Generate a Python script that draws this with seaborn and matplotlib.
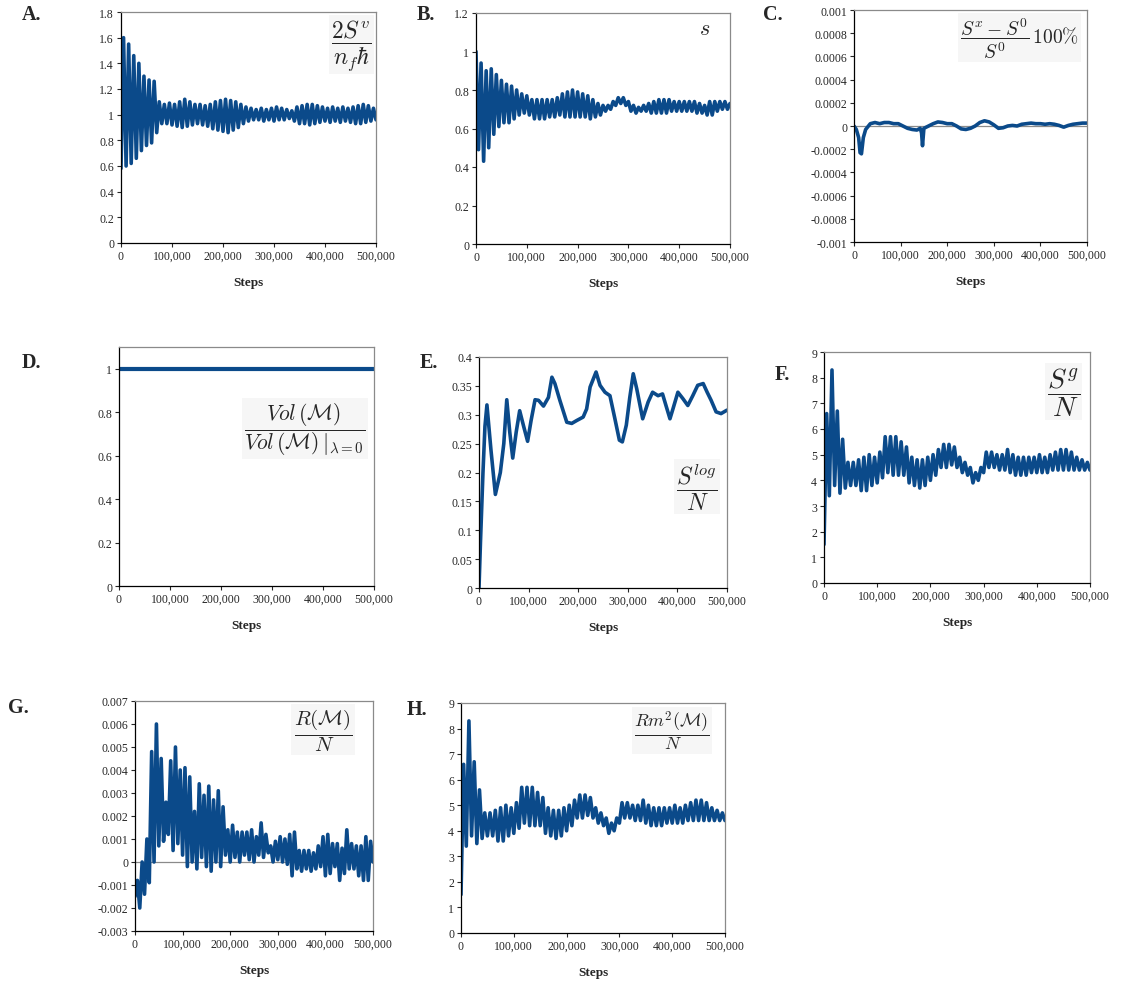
import numpy as np
import matplotlib
matplotlib.use("Agg")
import matplotlib.pyplot as plt
from matplotlib.ticker import FuncFormatter
import seaborn as sns

# --- data (steps 0..500,000) ---
# A: 2S^v / (n_f hbar); troughs at 0,10k,...,500k, peaks at 5k,15k,...,495k
a_troughs = [0.58, 0.60, 0.62, 0.66, 0.72, 0.76, 0.78, 0.86, 0.93, 0.93,
             0.92, 0.91, 0.90, 0.91, 0.92, 0.93, 0.92, 0.91, 0.89, 0.88,
             0.87, 0.86, 0.88, 0.90, 0.93, 0.95, 0.96, 0.96, 0.95, 0.96,
             0.95, 0.96, 0.96, 0.97, 0.95, 0.93, 0.93, 0.92, 0.93, 0.94,
             0.95, 0.94, 0.95, 0.94, 0.95, 0.94, 0.93, 0.93, 0.94, 0.95,
             0.96]
a_peaks = [1.60, 1.55, 1.46, 1.40, 1.30, 1.27, 1.26, 1.10, 1.08, 1.09,
           1.08, 1.10, 1.12, 1.10, 1.08, 1.08, 1.07, 1.08, 1.10, 1.11,
           1.12, 1.11, 1.10, 1.08, 1.06, 1.05, 1.04, 1.05, 1.04, 1.05,
           1.06, 1.05, 1.04, 1.03, 1.06, 1.07, 1.08, 1.08, 1.07, 1.06,
           1.05, 1.06, 1.05, 1.06, 1.05, 1.06, 1.07, 1.08, 1.07, 1.05]

# B: s; peaks at 0,10k,...,500k, troughs at 5k,...,495k
b_peaks = [1.00, 0.94, 0.90, 0.91, 0.88, 0.85, 0.83, 0.82, 0.80, 0.78,
           0.77, 0.75, 0.75, 0.75, 0.75, 0.75, 0.76, 0.78, 0.79, 0.80,
           0.79, 0.78, 0.77, 0.75, 0.73, 0.72, 0.72, 0.74, 0.76, 0.76,
           0.74, 0.72, 0.71, 0.72, 0.73, 0.74, 0.75, 0.75, 0.75, 0.74,
           0.74, 0.74, 0.74, 0.74, 0.73, 0.72, 0.74, 0.74, 0.74, 0.74,
           0.73]
b_troughs = [0.49, 0.43, 0.50, 0.57, 0.61, 0.63, 0.63, 0.65, 0.67, 0.68,
             0.67, 0.65, 0.65, 0.65, 0.66, 0.66, 0.67, 0.66, 0.66, 0.66,
             0.66, 0.66, 0.65, 0.66, 0.67, 0.69, 0.70, 0.72, 0.73, 0.72,
             0.69, 0.68, 0.69, 0.69, 0.68, 0.68, 0.68, 0.68, 0.69, 0.69,
             0.69, 0.69, 0.69, 0.68, 0.68, 0.67, 0.67, 0.69, 0.70, 0.70]

# C: relative deviation, in units of 1e-5
c_steps = [0, 5000, 10000, 13000, 16000, 20000, 25000,
           35000, 45000, 55000, 65000, 75000, 85000, 95000, 105000, 115000, 125000, 135000,
           142000, 145000, 147000, 150000,
           160000, 170000, 180000, 190000, 200000, 210000, 220000, 230000, 240000, 250000,
           260000, 270000, 280000, 290000, 300000, 310000, 320000, 330000, 340000, 350000,
           360000, 370000, 380000, 390000, 400000, 410000, 420000, 430000, 440000, 450000,
           460000, 470000, 480000, 490000, 500000]
c_vals_e5 = [0, -3, -10, -23, -24, -10, -3,
             2, 3, 2, 3, 3, 2, 2, 0, -2, -3, -3.5,
             -2, -6, -17, -2,
             0, 2, 3.5, 3, 2, 2, 0, -2.5, -3, -2,
             0, 3, 4.5, 3.5, 1, -2, -1.5, 0, 0.5, 0,
             1.5, 2, 2.5, 2, 2, 1.5, 2, 1.5, 0.5, -1,
             0.5, 1.5, 2, 2.5, 2.5]

# D: volume ratio
d_steps = [0, 500000]
d_vals = [1.0, 1.0]

# E: S^log / N
e_steps = [0, 3000, 8000, 12000, 16000, 24000, 33000, 43000, 50000, 56000,
           62000, 68000, 75000, 82000, 90000, 98000, 105000, 113000, 120000, 130000,
           140000, 147000, 153000, 163000, 177000, 187000, 197000, 210000, 217000, 224000,
           236000, 244000, 254000, 264000, 274000, 283000, 289000, 297000, 304000, 311000,
           318000, 330000, 341000, 350000, 361000, 370000, 378000, 385000, 391000, 401000,
           411000, 421000, 431000, 441000, 452000, 460000, 468000, 478000, 488000, 500000]
e_vals = [0, 0.08, 0.2, 0.28, 0.317, 0.24, 0.162, 0.2, 0.25, 0.326,
          0.27, 0.225, 0.27, 0.307, 0.28, 0.254, 0.29, 0.326, 0.325, 0.315,
          0.33, 0.365, 0.354, 0.325, 0.287, 0.285, 0.29, 0.296, 0.31, 0.348,
          0.374, 0.351, 0.339, 0.333, 0.293, 0.256, 0.253, 0.282, 0.33, 0.371,
          0.345, 0.293, 0.322, 0.339, 0.333, 0.336, 0.313, 0.293, 0.31, 0.339,
          0.328, 0.316, 0.333, 0.351, 0.354, 0.339, 0.325, 0.305, 0.302, 0.308]

# F / H: S^g / N and Rm^2 / N (same curve); troughs at 0,10k,..., peaks at 5k,...
f_troughs = [1.5, 3.4, 3.8, 3.5, 3.7, 3.8, 3.8, 3.6, 3.6, 3.8,
             3.9, 4.1, 4.3, 4.2, 4.2, 4.2, 3.9, 3.8, 3.7, 3.8,
             4.0, 4.2, 4.5, 4.5, 4.6, 4.5, 4.3, 4.2, 3.9, 4.0,
             4.3, 4.5, 4.5, 4.4, 4.4, 4.3, 4.2, 4.2, 4.2, 4.3,
             4.3, 4.3, 4.3, 4.4, 4.4, 4.4, 4.4, 4.4, 4.4, 4.4,
             4.4]
f_peaks = [6.6, 8.3, 6.7, 5.6, 4.7, 4.7, 4.8, 4.9, 5.0, 4.9,
           5.1, 5.7, 5.7, 5.7, 5.5, 5.3, 4.9, 4.8, 4.8, 4.9,
           5.0, 5.2, 5.4, 5.4, 5.3, 4.9, 4.7, 4.5, 4.3, 4.5,
           5.1, 5.1, 5.0, 5.0, 5.2, 5.0, 4.9, 4.9, 4.9, 4.9,
           5.0, 4.9, 5.0, 5.1, 5.2, 5.2, 5.1, 4.9, 4.8, 4.7]
h_troughs = f_troughs
h_peaks = f_peaks

# G: R(M) / N; troughs at 0,10k,..., peaks at 5k,...
g_troughs = [-0.0015, -0.0020, -0.0014, -0.0009, 0.0000, 0.0007, 0.0009, 0.0012, 0.0005, 0.0008,
             0.0003, -0.0002, 0.0000, -0.0003, 0.0002, -0.0002, -0.0004, 0.0000, -0.0002, 0.0003,
             0.0000, 0.0002, 0.0000, 0.0003, 0.0001, 0.0000, 0.0003, 0.0002, 0.0004, 0.0000,
             0.0001, 0.0000, -0.0001, -0.0006, -0.0003, -0.0004, -0.0003, -0.0004, -0.0003, -0.0002,
             -0.0006, -0.0005, -0.0002, -0.0008, -0.0005, -0.0003, -0.0003, -0.0006, -0.0008, -0.0008,
             0.0000]
g_peaks = [-0.0008, 0.0000, 0.0010, 0.0048, 0.0060, 0.0045, 0.0026, 0.0044, 0.0050, 0.0040,
           0.0041, 0.0037, 0.0022, 0.0034, 0.0029, 0.0033, 0.0027, 0.0031, 0.0024, 0.0014,
           0.0016, 0.0013, 0.0013, 0.0013, 0.0014, 0.0011, 0.0017, 0.0012, 0.0007, 0.0009,
           0.0011, 0.0010, 0.0012, 0.0013, 0.0005, 0.0005, 0.0005, 0.0004, 0.0007, 0.0011,
           0.0012, 0.0008, 0.0008, 0.0006, 0.0014, 0.0008, 0.0007, 0.0007, 0.0011, 0.0009]

x_ticks = [0, 100000, 200000, 300000, 400000, 500000]
BLUE = "#0b4a8a"
W, H = 1136, 987
DENSE_LW = 2.6


def interleave(first, second):
    # alternate the two extremes
    out = []
    for i, v in enumerate(first):
        out.append(v)
        if i < len(second):
            out.append(second[i])
    return out


def rect(x0, y0, x1, y1):
    return [x0 / W, 1 - y1 / H, (x1 - x0) / W, (y1 - y0) / H]


def style_axes(ax, ylim, yticks):
    ax.set_xlim(0, 500000)
    ax.set_ylim(*ylim)
    ax.set_xticks(x_ticks)
    ax.set_yticks(yticks)
    ax.xaxis.set_major_formatter(FuncFormatter(lambda v, p: f"{int(round(v)):,}"))
    ax.yaxis.set_major_formatter(FuncFormatter(lambda v, p: f"{round(v, 6):g}"))
    ax.tick_params(direction="out", length=3, width=0.8, labelsize=8.5, pad=2,
                   top=False, right=False)
    for side in ["left", "bottom"]:
        ax.spines[side].set_color("black")
        ax.spines[side].set_linewidth(0.9)
    for side in ["top", "right"]:
        ax.spines[side].set_color("#8a8a8a")
        ax.spines[side].set_linewidth(0.9)
    ax.set_xlabel("Steps", fontweight="bold", fontsize=9.5, labelpad=10)
    ax.set_ylabel("")


def formula(ax, x, y, s, size):
    ax.text(x, y, s, transform=ax.transAxes, ha="center", va="center", fontsize=size,
            bbox=dict(facecolor="#f6f6f6", edgecolor="none", pad=1.5))


sns.set_style("ticks")
plt.rcParams["font.family"] = ["Liberation Serif", "DejaVu Serif"]
plt.rcParams["mathtext.fontset"] = "cm"

fig = plt.figure(figsize=(W / 100, H / 100), dpi=100)

zig_x = np.arange(101) * 5000

# A
ax = fig.add_axes(rect(121, 13, 376, 244))
sns.lineplot(x=zig_x, y=interleave(a_troughs, a_peaks), ax=ax, color=BLUE,
             linewidth=DENSE_LW, estimator=None, errorbar=None)
style_axes(ax, (0, 1.8), np.arange(0, 1.81, 0.2))
formula(ax, 0.905, 0.86, r"$\dfrac{2S^v}{n_f\hbar}$", 17)

# B
ax = fig.add_axes(rect(476, 14, 730, 245))
sns.lineplot(x=zig_x, y=interleave(b_peaks, b_troughs), ax=ax, color=BLUE,
             linewidth=DENSE_LW, estimator=None, errorbar=None)
style_axes(ax, (0, 1.2), np.arange(0, 1.21, 0.2))
ax.text(0.90, 0.93, r"$s$", transform=ax.transAxes, ha="center", va="center", fontsize=16)

# C
ax = fig.add_axes(rect(854, 11, 1087, 243))
ax.axhline(0, color="#8a8a8a", linewidth=0.9)
sns.lineplot(x=c_steps, y=np.array(c_vals_e5) * 1e-5, ax=ax, color=BLUE,
             linewidth=2.6, estimator=None, errorbar=None)
style_axes(ax, (-0.001, 0.001), np.arange(-0.001, 0.00101, 0.0002))
formula(ax, 0.71, 0.88, r"$\dfrac{S^x - S^0}{S^0}\,100\%$", 14)

# D
ax = fig.add_axes(rect(119, 348, 374, 587))
sns.lineplot(x=d_steps, y=d_vals, ax=ax, color=BLUE, linewidth=3,
             estimator=None, errorbar=None)
style_axes(ax, (0, 1.1), np.arange(0, 1.01, 0.2))
formula(ax, 0.73, 0.657, r"$\dfrac{Vol\,(\mathcal{M})}{Vol\,(\mathcal{M})\,|_{\lambda=0}}$", 15.5)

# E
ax = fig.add_axes(rect(479, 358, 727, 589))
sns.lineplot(x=e_steps, y=e_vals, ax=ax, color=BLUE, linewidth=2.6,
             estimator=None, errorbar=None)
style_axes(ax, (0, 0.4), np.arange(0, 0.401, 0.05))
formula(ax, 0.88, 0.44, r"$\dfrac{S^{log}}{N}$", 17)

# F
ax = fig.add_axes(rect(824, 353, 1090, 584))
sns.lineplot(x=zig_x, y=interleave(f_troughs, f_peaks), ax=ax, color=BLUE,
             linewidth=DENSE_LW, estimator=None, errorbar=None)
style_axes(ax, (0, 9), np.arange(0, 9.01, 1))
formula(ax, 0.90, 0.83, r"$\dfrac{S^g}{N}$", 20)

# G
ax = fig.add_axes(rect(135, 702, 373, 932))
ax.axhline(0, color="#8a8a8a", linewidth=0.9)
sns.lineplot(x=zig_x, y=interleave(g_troughs, g_peaks), ax=ax, color=BLUE,
             linewidth=DENSE_LW, estimator=None, errorbar=None)
style_axes(ax, (-0.003, 0.007), np.arange(-0.003, 0.00701, 0.001))
formula(ax, 0.79, 0.875, r"$\dfrac{R(\mathcal{M})}{N}$", 15)

# H
ax = fig.add_axes(rect(461, 704, 725, 934))
sns.lineplot(x=zig_x, y=interleave(h_troughs, h_peaks), ax=ax, color=BLUE,
             linewidth=DENSE_LW, estimator=None, errorbar=None)
style_axes(ax, (0, 9), np.arange(0, 9.01, 1))
formula(ax, 0.80, 0.88, r"$\dfrac{Rm^2(\mathcal{M})}{N}$", 13)

# panel letters
for letter, px, py in [("A.", 22, 15), ("B.", 417, 15), ("C.", 763, 15), ("D.", 22, 363),
                       ("E.", 420, 363), ("F.", 775, 375), ("G.", 8, 708), ("H.", 407, 710)]:
    fig.text(px / W, 1 - py / H, letter, fontsize=14.5, fontweight="bold", va="center", ha="left")

fig.savefig("out.png", dpi=100)
